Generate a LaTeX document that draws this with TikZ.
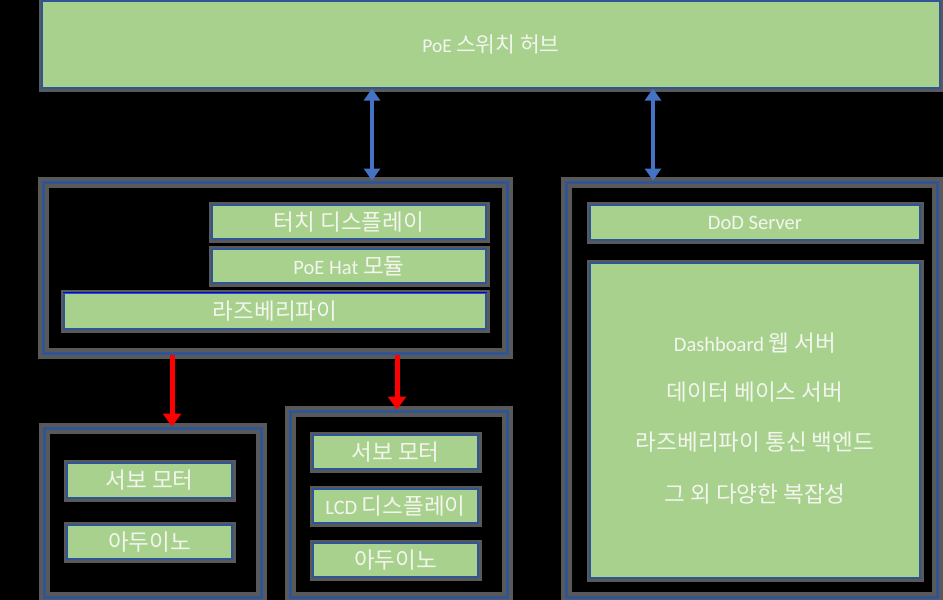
\documentclass[tikz,border=0pt]{standalone}
\usepackage{fontspec}
\setmainfont{Carlito}
\newfontfamily\kr{Noto Sans CJK KR}[Scale=1.1]
\usetikzlibrary{arrows.meta}
\definecolor{gfill}{HTML}{A9D18E}
\definecolor{bline}{HTML}{2F5597}
\definecolor{barrow}{HTML}{4472C4}
\definecolor{sgray}{HTML}{595959}
\definecolor{txt}{HTML}{F2F6EE}
\tikzset{
  gbox/.style={rectangle, fill=gfill, draw=bline, line width=1.2pt, text=txt,
    font=\fontsize{20.5}{22}\selectfont, inner sep=0pt,
    preaction={draw=sgray, line width=7pt}},
  cbox/.style={rectangle, draw=bline, line width=3pt, inner sep=0pt,
    preaction={draw=sgray, line width=11pt}},
  ltext/.style={text=txt, font=\fontsize{20.5}{22}\selectfont, inner sep=0pt},
  bluearrow/.style={draw=barrow, line width=3.5pt, {Triangle[width=16pt,length=12pt]}-{Triangle[width=16pt,length=12pt]}},
  redarrow/.style={draw=red, line width=5pt, -{Triangle[width=18pt,length=13pt]}}
}
\begin{document}
\begin{tikzpicture}[x=1pt,y=-1pt]
\fill[black] (0,0) rectangle (943,600);
\useasboundingbox (0,0) rectangle (943,600);

% top hub
\node[gbox, minimum width=898, minimum height=87, font=\fontsize{19.5}{21}\selectfont] (hub) at (491,44.5) {PoE {\kr 스위치 허브}};

% left container
\node[cbox, minimum width=464, minimum height=171] (lc) at (275,267.5) {};
\node[gbox, minimum width=274, minimum height=34] (touch) at (349,222) {\kr 터치 디스플레이};
\node[gbox, minimum width=274, minimum height=34] (hat) at (349,266) {PoE Hat {\kr 모듈}};
\node[gbox, minimum width=422, minimum height=36] (rpi) at (275,311) {\kr 라즈베리파이};
\draw[blue, line width=1.5pt] (rpi.north west) -- (rpi.north east);

% bottom left container
\node[cbox, minimum width=217, minimum height=169] (blc) at (152.5,512.5) {};
\node[gbox, minimum width=165, minimum height=35] (servoA) at (149.5,480.5) {\kr 서보 모터};
\node[gbox, minimum width=165, minimum height=34] (ardA) at (149.5,542) {\kr 아두이노};

% bottom middle container
\node[cbox, minimum width=217, minimum height=186] (bmc) at (398.5,504) {};
\node[gbox, minimum width=165, minimum height=34] (servoB) at (395.5,452) {\kr 서보 모터};
\node[gbox, minimum width=165, minimum height=34] (lcd) at (395.5,506) {LCD {\kr 디스플레이}};
\node[gbox, minimum width=165, minimum height=34] (ardB) at (395.5,560) {\kr 아두이노};

% right container
\node[cbox, minimum width=371, minimum height=415] (rc) at (751.5,389.5) {};
\node[gbox, minimum width=330, minimum height=35] (dod) at (755,222.5) {DoD Server};
\node[gbox, minimum width=330, minimum height=315] (big) at (755,420.5) {};
\node[ltext] (t1) at (755,343) {Dashboard {\kr 웹 서버}};
\node[ltext] (t2) at (755,392) {\kr 데이터 베이스 서버};
\node[ltext] (t3) at (755,442) {\kr 라즈베리파이 통신 백엔드};
\node[ltext] (t4) at (755,494) {\kr 그 외 다양한 복잡성};

% connectors
\coordinate (xa) at (372,0);
\coordinate (xb) at (653,0);
\coordinate (xc) at (172,0);
\coordinate (xd) at (397,0);
\draw[bluearrow] (hub.south -| xa) -- (lc.north -| xa);
\draw[bluearrow] (hub.south -| xb) -- (rc.north -| xb);
\draw[redarrow] (lc.south -| xc) -- (blc.north -| xc);
\draw[redarrow] (lc.south -| xd) -- (bmc.north -| xd);
\end{tikzpicture}
\end{document}
